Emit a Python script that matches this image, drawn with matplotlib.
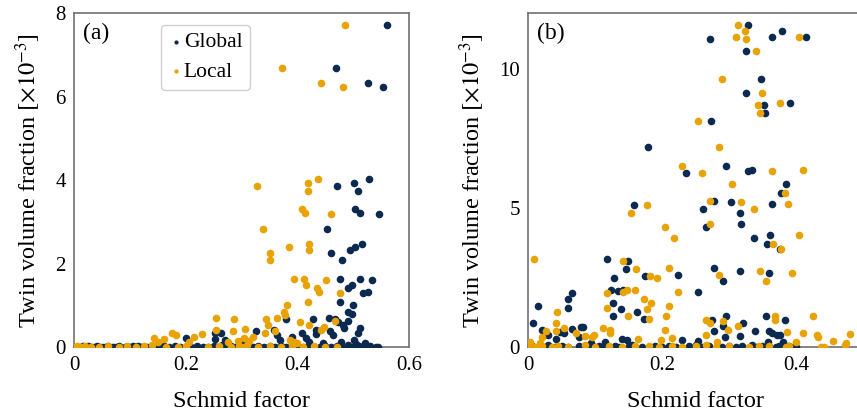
import matplotlib.pyplot as plt

plt.rcParams['font.family'] = ['Liberation Serif', 'DejaVu Serif']
plt.rcParams['mathtext.fontset'] = 'stix'

NAVY = '#0c2a50'
ORANGE = '#e8a202'

# panel (a): Schmid factor vs twin volume fraction (x1e-3)
a_global_x = [0.560, 0.469, 0.527, 0.553, 0.470, 0.501, 0.529, 0.509, 0.504, 0.512, 0.546,
              0.453, 0.461, 0.479, 0.494, 0.504, 0.516, 0.476, 0.512, 0.533, 0.497, 0.491,
              0.518, 0.527, 0.476, 0.500, 0.491, 0.497, 0.491, 0.380, 0.427, 0.457, 0.467,
              0.472, 0.482, 0.484, 0.512, 0.509, 0.326, 0.358, 0.433, 0.434, 0.408, 0.459,
              0.463, 0.501, 0.253, 0.263, 0.253, 0.200, 0.271, 0.364, 0.369, 0.390, 0.415,
              0.420, 0.301, 0.445, 0.478, 0.505, 0.521,
              0.010, 0.015, 0.020, 0.025, 0.030, 0.035, 0.040, 0.045, 0.050, 0.055, 0.060,
              0.070, 0.075, 0.080, 0.090, 0.100, 0.105, 0.110, 0.115, 0.120, 0.130, 0.140,
              0.150, 0.155, 0.160, 0.170, 0.180, 0.190, 0.210, 0.220, 0.230, 0.240, 0.250,
              0.260, 0.265, 0.270, 0.280, 0.290, 0.320, 0.330, 0.340, 0.350, 0.360, 0.370,
              0.380, 0.390, 0.400, 0.410, 0.420, 0.430, 0.440, 0.450, 0.460, 0.470, 0.480,
              0.490, 0.500, 0.510, 0.520, 0.530, 0.540, 0.545]
a_global_y = [7.72, 6.69, 6.34, 6.24, 3.87, 3.93, 4.03, 3.75, 3.32, 3.21, 3.20,
              2.83, 2.27, 2.09, 2.33, 2.41, 2.48, 1.63, 1.63, 1.61, 1.49, 1.41,
              1.29, 1.33, 1.09, 1.01, 0.85, 0.79, 0.64, 0.69, 0.69, 0.70, 0.67,
              0.61, 0.53, 0.46, 0.47, 0.34, 0.39, 0.42, 0.42, 0.31, 0.35, 0.39,
              0.30, 0.18, 0.34, 0.34, 0.19, 0.23, 0.18, 0.30, 0.18, 0.26, 0.23,
              0.14, 0.15, 0.10, 0.12, 0.08, 0.10,
              0.02, 0.03, 0.01, 0.04, 0.02, 0.01, 0.03, 0.02, 0.01, 0.02, 0.03,
              0.02, 0.01, 0.03, 0.02, 0.01, 0.04, 0.02, 0.03, 0.01, 0.02, 0.03,
              0.02, 0.01, 0.03, 0.02, 0.04, 0.01, 0.02, 0.03, 0.02, 0.01, 0.03,
              0.02, 0.05, 0.01, 0.03, 0.02, 0.01, 0.03, 0.02, 0.04, 0.01, 0.03,
              0.02, 0.01, 0.04, 0.02, 0.03, 0.01, 0.02, 0.04, 0.01, 0.03, 0.02,
              0.05, 0.01, 0.03, 0.02, 0.04, 0.01, 0.02]
a_local_x = [0.485, 0.373, 0.442, 0.481, 0.327, 0.419, 0.437, 0.418, 0.409, 0.414, 0.461,
             0.339, 0.350, 0.351, 0.385, 0.420, 0.421, 0.393, 0.411, 0.415, 0.452, 0.435,
             0.438, 0.477, 0.418, 0.382, 0.375, 0.378, 0.254, 0.286, 0.343, 0.364, 0.347,
             0.405, 0.421, 0.448, 0.467, 0.443, 0.306, 0.254, 0.284, 0.341, 0.360, 0.229,
             0.215, 0.176, 0.182, 0.142, 0.160, 0.206, 0.150, 0.304, 0.314, 0.321, 0.275,
             0.294, 0.387, 0.393, 0.399,
             0.000, 0.005, 0.012, 0.020, 0.030, 0.045, 0.060, 0.080, 0.095, 0.110, 0.125,
             0.140, 0.165, 0.185, 0.200, 0.240, 0.260, 0.280, 0.295, 0.300, 0.310, 0.330,
             0.350, 0.370, 0.390, 0.410, 0.430, 0.450, 0.470]
a_local_y = [7.72, 6.69, 6.34, 6.24, 3.87, 3.93, 4.03, 3.75, 3.32, 3.21, 3.20,
             2.83, 2.27, 2.09, 2.41, 2.48, 2.34, 1.63, 1.63, 1.49, 1.61, 1.41,
             1.33, 1.29, 1.09, 1.01, 0.85, 0.78, 0.70, 0.69, 0.68, 0.70, 0.53,
             0.61, 0.53, 0.48, 0.64, 0.42, 0.43, 0.42, 0.38, 0.35, 0.39, 0.31,
             0.26, 0.34, 0.30, 0.22, 0.19, 0.14, 0.12, 0.22, 0.16, 0.24, 0.14,
             0.16, 0.18, 0.12, 0.10,
             0.02, 0.04, 0.01, 0.03, 0.02, 0.01, 0.03, 0.02, 0.04, 0.01, 0.03,
             0.05, 0.02, 0.01, 0.03, 0.02, 0.04, 0.01, 0.03, 0.02, 0.05, 0.01,
             0.03, 0.02, 0.04, 0.01, 0.03, 0.02, 0.01]

# panel (b)
b_global_x = [0.328, 0.271, 0.364, 0.379, 0.415, 0.326, 0.348, 0.326, 0.353, 0.354, 0.391,
              0.273, 0.179, 0.295, 0.236, 0.328, 0.335, 0.385, 0.378, 0.278, 0.303, 0.158,
              0.364, 0.261, 0.317, 0.318, 0.265, 0.338, 0.361, 0.357, 0.376, 0.117, 0.149,
              0.146, 0.175, 0.223, 0.278, 0.291, 0.317, 0.359, 0.128, 0.123, 0.134, 0.142,
              0.253, 0.127, 0.163, 0.139, 0.127, 0.173, 0.065, 0.060, 0.059, 0.014, 0.007,
              0.021, 0.030, 0.041, 0.048, 0.053, 0.065, 0.078, 0.081, 0.075, 0.295, 0.275,
              0.278, 0.291, 0.321, 0.339, 0.356, 0.384, 0.359, 0.364, 0.372, 0.376, 0.316,
              0.294, 0.230, 0.254, 0.381, 0.358, 0.148, 0.140, 0.114, 0.093,
              0.005, 0.015, 0.030, 0.040, 0.050, 0.060, 0.075, 0.090, 0.100, 0.105, 0.110,
              0.130, 0.135, 0.150, 0.155, 0.170, 0.190, 0.200, 0.210, 0.220, 0.240, 0.250,
              0.260, 0.270, 0.290, 0.300, 0.310, 0.320, 0.335, 0.340, 0.350, 0.355, 0.360,
              0.370, 0.375, 0.380, 0.385, 0.390, 0.395, 0.400]
b_global_y = [11.57, 11.06, 11.16, 11.35, 11.16, 10.65, 9.63, 9.12, 8.72, 8.43, 8.78,
              8.12, 7.19, 6.53, 6.27, 6.34, 6.36, 5.87, 5.53, 5.24, 5.22, 5.12,
              5.14, 4.96, 4.82, 4.42, 4.33, 3.93, 4.02, 3.70, 3.52, 3.17, 3.10,
              2.82, 2.58, 2.60, 2.84, 2.37, 2.75, 2.67, 2.48, 2.07, 2.02, 2.07,
              1.98, 1.61, 1.28, 1.37, 1.11, 1.01, 1.95, 1.73, 1.41, 1.49, 0.87,
              0.63, 0.45, 0.29, 0.55, 0.51, 0.67, 0.72, 0.72, 0.39, 1.11, 0.99,
              0.59, 0.77, 0.89, 0.60, 1.11, 0.99, 0.59, 0.53, 0.45, 0.45, 0.41,
              0.36, 0.27, 0.24, 0.20, 0.20, 0.27, 0.29, 0.20, 0.14,
              0.05, 0.02, 0.08, 0.03, 0.06, 0.02, 0.04, 0.07, 0.02, 0.05, 0.03,
              0.06, 0.02, 0.04, 0.08, 0.03, 0.05, 0.02, 0.06, 0.03, 0.04, 0.07,
              0.02, 0.05, 0.03, 0.06, 0.02, 0.04, 0.08, 0.03, 0.05, 0.02, 0.06,
              0.03, 0.04, 0.07, 0.02, 0.05, 0.03, 0.02]
b_local_x = [0.313, 0.324, 0.311, 0.326, 0.341, 0.404, 0.290, 0.350, 0.343, 0.347, 0.376,
             0.253, 0.285, 0.229, 0.259, 0.364, 0.411, 0.305, 0.383, 0.272, 0.318, 0.178,
             0.388, 0.154, 0.338, 0.271, 0.205, 0.217, 0.405, 0.366, 0.377, 0.009, 0.141,
             0.161, 0.182, 0.193, 0.211, 0.285, 0.347, 0.394, 0.356, 0.118, 0.141, 0.148,
             0.159, 0.224, 0.173, 0.184, 0.118, 0.177, 0.210, 0.149, 0.206, 0.181, 0.043,
             0.042, 0.054, 0.204, 0.265, 0.272, 0.291, 0.298, 0.313, 0.369, 0.369, 0.426,
             0.386, 0.411, 0.431, 0.433, 0.481, 0.456, 0.475, 0.473, 0.266, 0.282, 0.214,
             0.199, 0.164, 0.122, 0.122, 0.111, 0.098, 0.095, 0.085, 0.071, 0.042, 0.027,
             0.020, 0.017, 0.002, 0.400, 0.437, 0.442,
             0.000, 0.010, 0.020, 0.035, 0.045, 0.060, 0.085, 0.100, 0.120, 0.140, 0.160,
             0.180, 0.195, 0.215, 0.230, 0.250, 0.265, 0.280, 0.300, 0.330, 0.345, 0.360,
             0.385, 0.390]
b_local_y = [11.57, 11.35, 11.16, 11.06, 10.65, 11.16, 9.63, 9.12, 8.72, 8.43, 8.78,
             8.12, 7.19, 6.53, 6.27, 6.34, 6.37, 5.87, 5.53, 5.24, 5.22, 5.12,
             5.14, 4.83, 4.96, 4.42, 4.33, 3.93, 4.02, 3.70, 3.52, 3.17, 3.10,
             2.82, 2.58, 2.48, 2.84, 2.60, 2.75, 2.67, 2.37, 1.95, 2.00, 2.07,
             2.07, 1.98, 1.73, 1.61, 1.41, 1.37, 1.49, 1.11, 1.11, 1.01, 1.28,
             0.87, 0.71, 0.63, 0.99, 0.87, 0.93, 0.63, 0.77, 1.11, 0.99, 1.11,
             0.55, 0.53, 0.45, 0.39, 0.47, 0.24, 0.14, 0.08, 0.45, 0.20, 0.33,
             0.27, 0.29, 0.63, 0.53, 0.69, 0.45, 0.36, 0.41, 0.53, 0.59, 0.59,
             0.39, 0.14, 0.20, 0.20, 0.02, 0.02,
             0.04, 0.02, 0.06, 0.03, 0.05, 0.02, 0.07, 0.03, 0.05, 0.02, 0.04,
             0.06, 0.03, 0.05, 0.02, 0.04, 0.07, 0.03, 0.05, 0.02, 0.04, 0.06,
             0.03, 0.05]

fig = plt.figure(figsize=(8.57, 4.16), dpi=100)
ax1 = fig.add_axes([0.0867, 0.165, 0.3906, 0.803])
ax2 = fig.add_axes([0.6165, 0.165, 0.3903, 0.803])

ylab = r'Twin volume fraction $\left[\times10^{-3}\right]$'

for ax, gx, gy, lx, ly, xmax, ymax, tag in [
        (ax1, a_global_x, a_global_y, a_local_x, a_local_y, 0.6, 8, '(a)'),
        (ax2, b_global_x, b_global_y, b_local_x, b_local_y, 0.5, 12, '(b)')]:
    ax.scatter(gx, gy, s=30, color=NAVY, linewidths=0, label='Global', zorder=3)
    ax.scatter(lx, ly, s=30, color=ORANGE, linewidths=0, label='Local', zorder=3)
    ax.set_xlim(0, xmax)
    ax.set_ylim(0, ymax)
    ax.set_xlabel('Schmid factor', fontsize=17.5, labelpad=12)
    ax.set_ylabel(ylab, fontsize=17.5, labelpad=9)
    ax.tick_params(length=0, labelsize=15, pad=6)
    for sp in ax.spines.values():
        sp.set_color('#707070')
        sp.set_linewidth(1.2)
    ax.text(0.027, 0.97, tag, transform=ax.transAxes, fontsize=17, va='top', ha='left')

ax1.set_xticks([0, 0.2, 0.4, 0.6])
ax1.set_xticklabels(['0', '0.2', '0.4', '0.6'])
ax1.set_yticks([0, 2, 4, 6, 8])
ax2.set_xticks([0, 0.2, 0.4])
ax2.set_xticklabels(['0', '0.2', '0.4'])
ax2.set_yticks([0, 5, 10])

ax1.legend(loc='upper left', bbox_to_anchor=(0.24, 0.985), fontsize=15.5,
           markerscale=0.55, handletextpad=0.0, handlelength=0.7,
           borderpad=0.35, borderaxespad=0.3, labelspacing=0.45, frameon=True,
           fancybox=True, edgecolor='#d0d0d0', framealpha=1)

fig.savefig('out.png', dpi=100)
